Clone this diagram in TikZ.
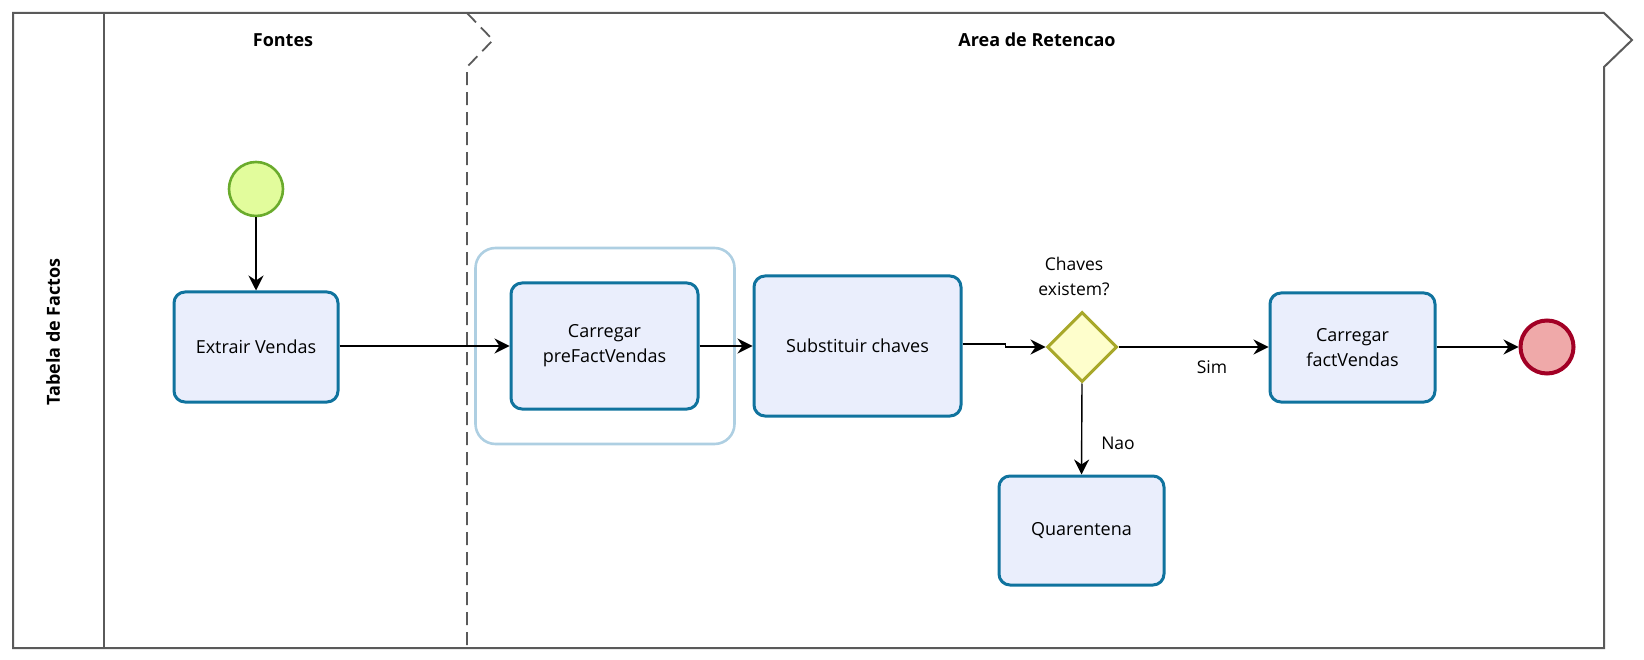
\documentclass[tikz,border=0pt]{standalone}
\usepackage{fontspec}
\setmainfont{Open Sans}
\usetikzlibrary{arrows.meta,shapes.geometric}
\definecolor{taskfill}{HTML}{EAEEFC}
\definecolor{taskdraw}{HTML}{10739E}
\definecolor{groupdraw}{HTML}{AECFE2}
\definecolor{startfill}{HTML}{E2FC9C}
\definecolor{startdraw}{HTML}{6AAB2C}
\definecolor{endfill}{HTML}{EFA9A9}
\definecolor{enddraw}{HTML}{A20025}
\definecolor{diafill}{HTML}{FEFECC}
\definecolor{diadraw}{HTML}{A8A82A}
\definecolor{poolline}{HTML}{5A5A5A}
\tikzset{
  task/.style={draw=taskdraw, fill=taskfill, line width=3pt, rounded corners=11pt,
    align=center, inner sep=0pt, font=\fontsize{18}{25}\selectfont},
  grp/.style={draw=groupdraw, line width=2.6pt, rounded corners=20pt, inner sep=0pt},
  startev/.style={circle, draw=startdraw, fill=startfill, line width=2.6pt, minimum size=54pt, inner sep=0pt},
  endev/.style={circle, draw=enddraw, fill=endfill, line width=4pt, minimum size=53pt, inner sep=0pt},
  gate/.style={diamond, draw=diadraw, fill=diafill, line width=3pt, minimum width=70pt, minimum height=70pt, inner sep=0pt, aspect=1},
  flow/.style={draw=black, line width=1.4pt, -{Stealth[length=15pt,width=15pt,inset=5pt]}},
  pool/.style={draw=poolline, line width=2pt},
  lanediv/.style={draw=poolline, line width=1.8pt, dash pattern=on 13pt off 7pt},
  ttl/.style={font=\bfseries\fontsize{18}{22}\selectfont, inner sep=0pt},
  lbl/.style={font=\fontsize{17.5}{25}\selectfont, inner sep=0pt, align=center}
}
\begin{document}
\begin{tikzpicture}[x=1pt,y=-1pt]
\useasboundingbox (0,0) rectangle (1644,660);
% pool
\draw[pool] (13,13) -- (1604,13) -- (1632,40) -- (1604,67) -- (1604,648) -- (13,648) -- cycle;
\draw[pool] (104,13) -- (104,648);
\draw[lanediv] (467,13) -- (493,40) -- (467,67) -- (467,648);
\node[ttl] (tfontes) at (283,40) {Fontes};
\node[ttl] (tarea) at (1037,40) {Area de Retencao};
\node[ttl, rotate=90] (tpool) at (53,332) {Tabela de Factos};
% group
\node[grp, minimum width=259pt, minimum height=196pt] (grp) at (605,346) {};
% nodes
\node[startev] (start) at (256,189) {};
\node[task, minimum width=164pt, minimum height=110pt] (extr) at (256,347) {Extrair Vendas};
\node[task, minimum width=187pt, minimum height=126pt] (pre) at (604.5,346) {Carregar\\preFactVendas};
\node[task, minimum width=207pt, minimum height=140pt] (subst) at (857.5,346) {Substituir chaves};
\node[gate] (dia) at (1082,347) {};
\node[lbl] (dialbl) at (1074,276) {Chaves\\existem?};
\node[task, minimum width=165pt, minimum height=109pt] (fact) at (1352.5,347.5) {Carregar\\factVendas};
\node[task, minimum width=165pt, minimum height=109pt] (quar) at (1081.5,530.5) {Quarentena};
\node[endev] (end) at (1547,347) {};
% flows
\draw[flow] (start) -- (extr);
\draw[flow] (extr.east |- pre.west) -- (pre.west);
\draw[flow] (pre) -- (subst);
\draw[flow] ([yshift=2pt]subst.east) -- ++(43,0) |- (dia.west);
\draw[flow] (dia.east) -- (fact.west |- dia.east);
\draw[flow] (dia.south) -- (quar.north);
\draw[flow] (fact.east |- end.west) -- (end.west);
\node[lbl] (sim) at (1212,367) {Sim};
\node[lbl] (nao) at (1118,443) {Nao};
\end{tikzpicture}
\end{document}
